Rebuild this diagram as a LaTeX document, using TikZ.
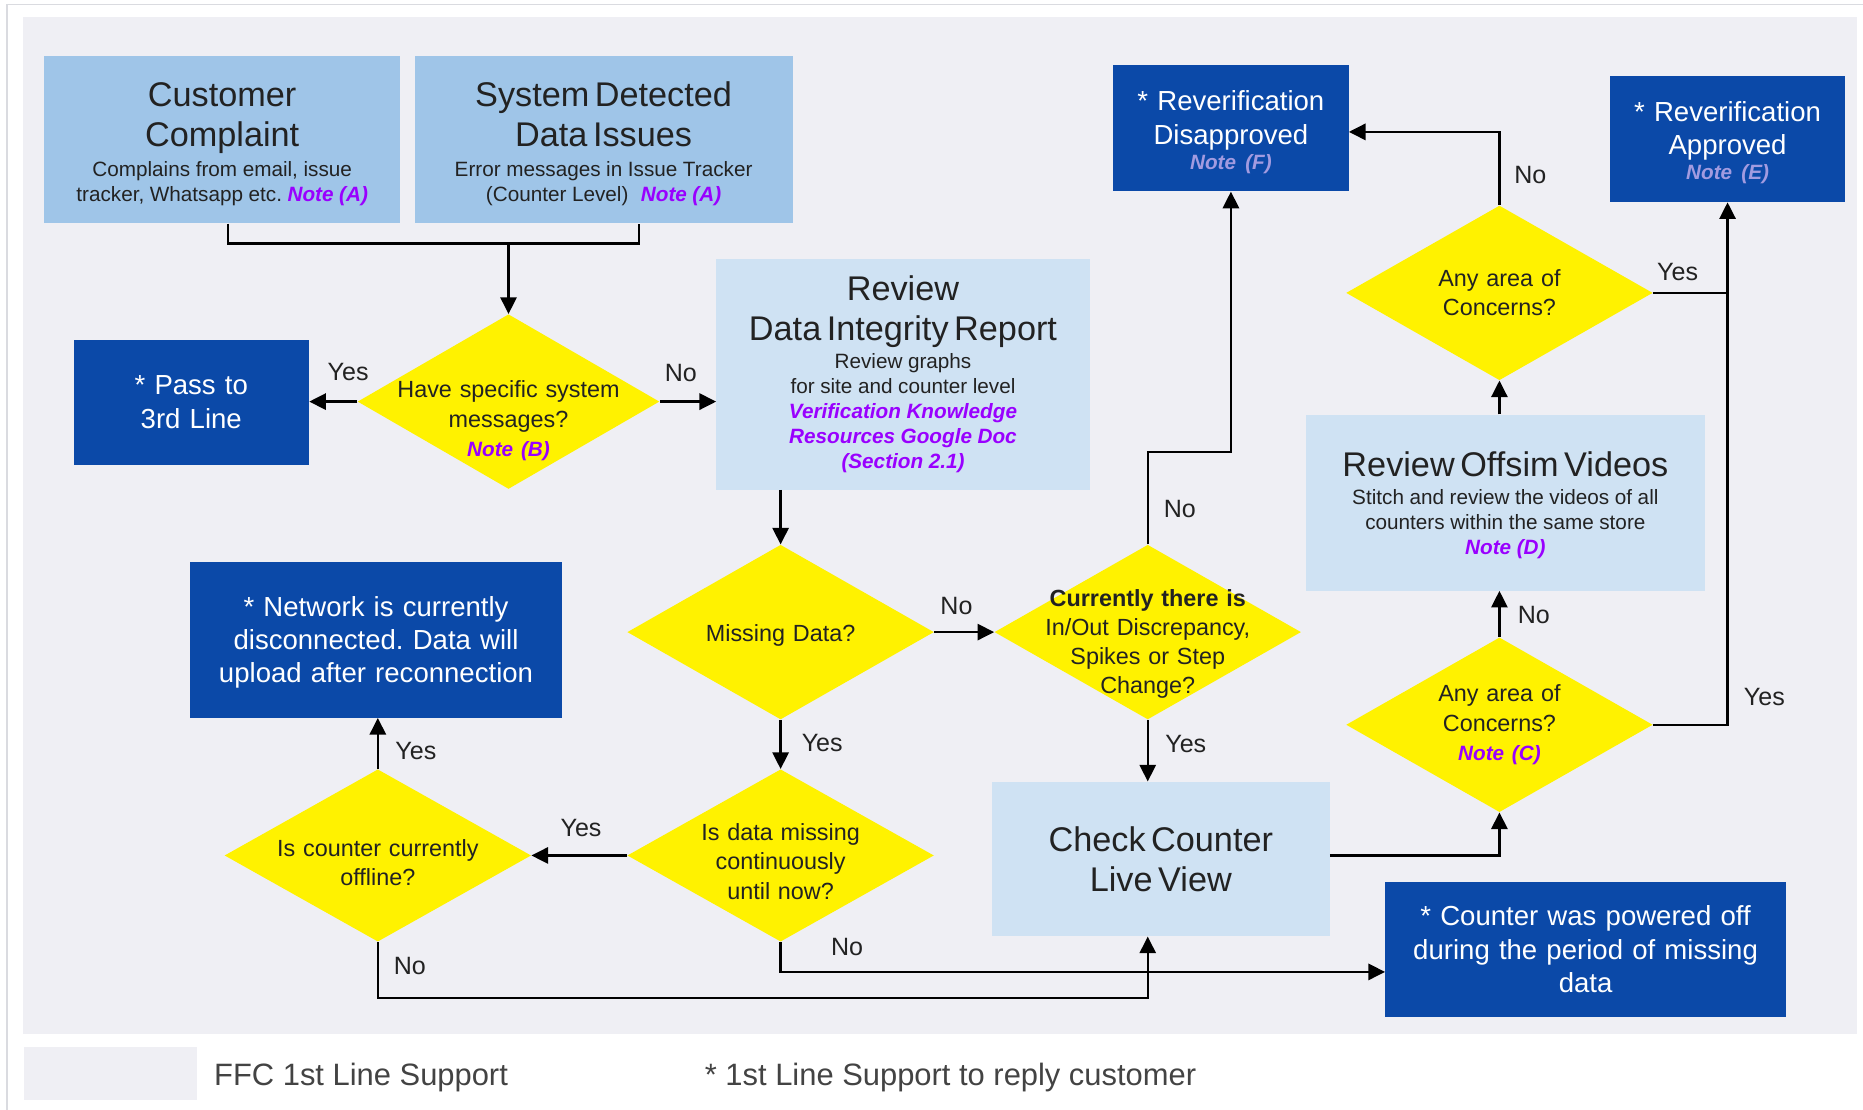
\documentclass[tikz,border=0pt]{standalone}
\usepackage{fontspec}
\setmainfont{Liberation Sans}
\usetikzlibrary{
  shapes.geometric,
  arrows.meta,
  calc
}
\frenchspacing
\definecolor{panel}{HTML}{EFEFF4}
\definecolor{rim}{HTML}{DADBE0}
\definecolor{midblue}{HTML}{9FC5E8}
\definecolor{paleblue}{HTML}{CFE2F3}
\definecolor{navy}{HTML}{0B49A8}
\definecolor{notepurple}{HTML}{9900FF}
\definecolor{notelav}{HTML}{A29BE0}
\definecolor{ink}{HTML}{222222}

\newcommand{\bigtxt}{\fontsize{20.5}{24}\selectfont}
\newcommand{\smltxt}{\fontsize{12.4}{15}\selectfont}
\newcommand{\qtxt}{\fontsize{14}{17.5}\selectfont}
\newcommand{\outtxt}{\fontsize{16.5}{20}\selectfont}
\newcommand{\notetag}[1]{{\color{notepurple}\bfseries\itshape #1}}
\newcommand{\lavtag}[1]{{\color{notelav}\bfseries\itshape #1}}

\tikzset{
  box size/.style 2 args={minimum width=#1,text width=#1,minimum height=#2},
  first line/.style={execute at begin node={\rule{0pt}{#1}}},
  source box/.style={rectangle,fill=midblue,text=ink,align=center,inner sep=0pt},
  task box/.style={rectangle,fill=paleblue,text=ink,align=center,inner sep=0pt},
  reply box/.style={rectangle,fill=navy,text=white,align=center,inner sep=0pt,font=\outtxt},
  decision/.style={diamond,fill=yellow,text=ink,align=center,font=\qtxt,
    text width=60mm,inner xsep=-35mm,inner ysep=-25mm,
    minimum width=64.5mm,minimum height=36.75mm},
  branch label/.style={inner sep=0pt,text=ink,font=\fontsize{15}{18}\selectfont},
  legend text/.style={inner sep=0pt,anchor=west,text=ink!85,font=\fontsize{18.5}{22}\selectfont},
  flow line/.style={draw=black,line width=1.5pt},
  flow arrow/.style={flow line,-{Triangle[length=3.5mm,width=3.4mm]}},
}

\begin{document}
\begin{tikzpicture}[x=0.25mm,y=-0.25mm]
\useasboundingbox (0,0) rectangle (1568,934);
\fill[panel] (19,14) rectangle (1563,870);
\draw[rim,line width=0.8pt] (6,934) -- (6,4) -- (1568,4);

% sources
\node[source box,box size={75mm}{35.25mm},first line=6.8mm] (cust) at (187,117.5)
  {{\bigtxt Customer\\Complaint\par}\vspace{3pt}
   {\smltxt Complains from email, issue\\tracker, Whatsapp etc. \notetag{Note (A)}\par}};
\node[source box,box size={79.5mm}{35.25mm},first line=6.8mm] (sysissue) at (508,117.5)
  {{\bigtxt System Detected\\Data Issues\par}\vspace{3pt}
   {\smltxt Error messages in Issue Tracker\\(Counter Level)\hspace{0.6em}\notetag{Note (A)}\par}};

% decisions
\node[decision,minimum width=63.5mm,first line=11.6mm] (sysmsg) at (428,338)
  {Have specific system\\messages?\\{\smltxt\notetag{Note (B)}}};
\node[decision,first line=5.1mm] (missing) at (657,532) {Missing Data?};
\node[decision,first line=8.6mm] (spikes) at (966,532)
  {{\bfseries Currently there is}\\In/Out Discrepancy,\\Spikes or Step\\Change?};
\node[decision,minimum height=36.25mm,first line=6.1mm] (contmiss) at (657,720)
  {Is data missing\\continuously\\until now?};
\node[decision,minimum height=36.25mm,first line=6.6mm] (offline) at (318,720)
  {Is counter currently\\offline?};
\node[decision] (concernlive) at (1262,610)
  {Any area of\\Concerns?\\{\smltxt\notetag{Note (C)}}};
\node[decision] (concernvid) at (1262,246.5) {Any area of\\Concerns?};

% tasks
\node[task box,box size={78.5mm}{48.5mm}] (review) at (760,315)
  {{\bigtxt Review\\Data Integrity Report\par}\vspace{2pt}
   {\smltxt Review graphs\\for site and counter level\\
    \notetag{Verification Knowledge\\Resources Google Doc\\(Section 2.1)}\par}};
\node[task box,box size={84mm}{37mm},first line=6.3mm] (offsim) at (1267,423)
  {{\bigtxt Review Offsim Videos\par}\vspace{2pt}
   {\smltxt Stitch and review the videos of all\\counters within the same store\\
    \notetag{Note (D)}\par}};
\node[task box,box size={71mm}{32.5mm}] (livecheck) at (977,723)
  {{\bigtxt Check Counter\\Live View\par}};

% replies
\node[reply box,box size={49.5mm}{26.25mm}] (passthird) at (161,338.5)
  {* Pass to\\3rd Line};
\node[reply box,box size={78.25mm}{32.75mm},first line=5.25mm] (network) at (316.5,538.5)
  {* Network is currently\\disconnected. Data will\\upload after reconnection};
\node[reply box,box size={49.5mm}{26.5mm},first line=5.75mm] (disapproved) at (1036,108)
  {{* Reverification\\Disapproved\par}{\smltxt\lavtag{Note (F)}\par}};
\node[reply box,box size={49.5mm}{26.5mm},first line=5.75mm] (approved) at (1454,117)
  {{* Reverification\\Approved\par}{\smltxt\lavtag{Note (E)}\par}};
\node[reply box,box size={84.25mm}{28.5mm}] (poweredoff) at (1334.5,799)
  {* Counter was powered off\\during the period of missing\\data};

% connectors
\coordinate (merge) at (428,205);
\draw[flow line] ([xshift=1.25mm]cust.south) |- (merge) -| ([xshift=7.5mm]sysissue.south);
\draw[flow arrow] (merge) -- (sysmsg.north);
\draw[flow arrow] (sysmsg.west) -- (sysmsg.west -| passthird.east);
\draw[flow arrow] (sysmsg.east) -- (sysmsg.east -| review.west);
\draw[flow arrow] (review.south -| missing.north) -- (missing.north);
\draw[flow arrow] (missing.east) -- (spikes.west);
\draw[flow arrow] (missing.south) -- (contmiss.north);
\draw[flow arrow] (contmiss.west) -- (offline.east);
\draw[flow arrow] (offline.north) -- (offline.north |- network.south);
\draw[flow arrow] (offline.south) -- ++(0,47) -| (livecheck.south -| spikes.south);
\draw[flow arrow] (contmiss.south) |- ([yshift=-4.75mm]poweredoff.west);
\draw[flow arrow] (spikes.south) -- (livecheck.north -| spikes.south);
\draw[flow arrow] (spikes.north) -- ++(0,-78) -| (disapproved.south);
\draw[flow arrow] ([yshift=0.75mm]livecheck.east) -| (concernlive.south);
\draw[flow arrow] (concernlive.north) -- (concernlive.north |- offsim.south);
\draw[flow arrow] (concernvid.south |- offsim.north) -- (concernvid.south);
\draw[flow arrow] (concernvid.north) |- ([yshift=-0.75mm]disapproved.east);
\draw[flow arrow] (concernlive.east) -| (approved.south);
\draw[flow line] (concernvid.east) -- (concernvid.east -| approved.south);

% branch labels
\node[branch label] (y-pass) at (293,313) {Yes};
\node[branch label] (n-review) at (573,314) {No};
\node[branch label] (n-spikes) at (805,510) {No};
\node[branch label] (y-contmiss) at (692,625) {Yes};
\node[branch label] (y-offline) at (489,697) {Yes};
\node[branch label] (y-network) at (350,632) {Yes};
\node[branch label] (n-offline) at (345,813) {No};
\node[branch label] (n-contmiss) at (713,797) {No};
\node[branch label] (y-live) at (998,626) {Yes};
\node[branch label] (n-disapp) at (993,428) {No};
\node[branch label] (n-offsim) at (1291,518) {No};
\node[branch label] (n-concern) at (1288,147) {No};
\node[branch label] (y-approvedlow) at (1485,587) {Yes};
\node[branch label] (y-approvedtop) at (1412,229) {Yes};

% legend
\node[fill=panel,minimum width=36.5mm,minimum height=11.25mm,inner sep=0pt] (key) at (93,903.5) {};
\node[legend text] (keytext) at (180,907) {FFC 1st Line Support};
\node[legend text] (replynote) at (593,907) {* 1st Line Support to reply customer};
\end{tikzpicture}
\end{document}
